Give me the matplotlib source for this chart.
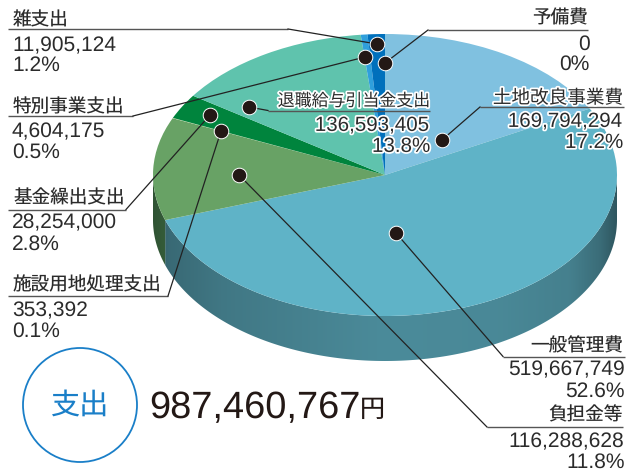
import matplotlib.pyplot as plt
from matplotlib.colors import to_rgb
from matplotlib.patches import Circle, Polygon
import matplotlib.patheffects as pe
import numpy as np

plt.rcParams["text.hinting"] = "none"
plt.rcParams["text.hinting_factor"] = 1

W, H = 635, 471
CX, CY, RX, RY, DEPTH = 385, 175, 232, 141, 45

# clockwise from 12 o'clock
categories = ["予備費", "土地改良事業費", "一般管理費", "負担金等", "施設用地処理支出",
              "基金繰出支出", "退職給与引当金支出", "特別事業支出", "雑支出"]
values = [0, 169794294, 519667749, 116288628, 353392, 28254000, 136593405, 4604175, 11905124]
percents = ["0%", "17.2%", "52.6%", "11.8%", "0.1%", "2.8%", "13.8%", "0.5%", "1.2%"]
colors = ["#80c1e0", "#80c1e0", "#5fb3c7", "#68a265", "#d3e4a0",
          "#00843d", "#5fc3ad", "#2f9fdc", "#0070bc"]
wall_colors = ["#4b8b9a", "#4b8b9a", "#4b8b9a", "#487e4e", "#487e4e",
               "#006030", "#3f8f80", "#20709c", "#005088"]
total_label = "987,460,767"

# label layout: (anchor x, ha, name y, number y, percent y, underline, leader bend, dot)
layout = {
    "雑支出": (13, "left", 19, 44, 64, (8, 288, 29), (288, 29), (377, 44)),
    "特別事業支出": (13, "left", 106, 130, 151, (8, 133, 116), (133, 116), (365, 57)),
    "基金繰出支出": (13, "left", 197, 221, 243, (8, 126, 209.5), (126, 209.5), (210, 115)),
    "施設用地処理支出": (13, "left", 284, 309, 330, (8, 168, 296), (168, 296), (221, 131)),
    "予備費": (588, "right", 17, 43, 63, (428, 588, 30), (428, 30), (385, 63)),
    "土地改良事業費": (623, "right", 97, 120, 141, (480, 624, 107), (480, 107), (442, 140)),
    "退職給与引当金支出": (430, "right", 100, 124, 145, (268, 430, 110.5), (268, 110.5), (249, 107)),
    "一般管理費": (623, "right", 345, 368, 390, (503, 625, 356.5), (503, 356.5), (396, 233)),
    "負担金等": (623, "right", 414, 440, 461, (487, 623, 427), (487, 427), (239, 175)),
}
halo_labels = ["土地改良事業費", "退職給与引当金支出"]

JP = ["Noto Sans CJK JP", "DejaVu Sans"]
NUM = "Liberation Sans"
INK = "#2b2b2b"
BLUE = "#1a7fc8"

fig = plt.figure(figsize=(W / 100, H / 100), dpi=100, facecolor="white")

# pie axes: one data unit is one ellipse radius, so the circle comes out flattened
ax = fig.add_axes([0, 0, 1, 1])
ax.pie(values, colors=colors, startangle=90, counterclock=False, radius=1,
       wedgeprops={"linewidth": 0})

# side wall under the front half, horizontal gradient clipped to each slice
fracs = np.cumsum([0] + values) / sum(values)
drop = DEPTH / RY
grad_x = np.linspace(-1, 1, 400)
shade = np.interp(grad_x, [-1, -0.93, -0.7, 0, 0.5, 0.8, 0.93, 1],
                  [0.66, 0.76, 0.86, 1.0, 0.98, 0.92, 0.78, 0.62])
for i in range(len(values)):
    a0 = max(fracs[i] * 2 * np.pi, np.pi / 2)
    a1 = min(fracs[i + 1] * 2 * np.pi, 3 * np.pi / 2)
    if a1 <= a0:
        continue
    th = np.linspace(a0, a1, 200)
    xs, ys = np.sin(th), np.cos(th)
    verts = np.r_[np.c_[xs, ys], np.c_[xs[::-1], ys[::-1] - drop]]
    grad = shade[None, :, None] * np.array(to_rgb(wall_colors[i]))[None, None, :]
    im = ax.imshow(grad, extent=(-1, 1, -1 - drop, 1), aspect="auto", zorder=0,
                   interpolation="bilinear")
    im.set_clip_path(Polygon(verts, transform=ax.transData))

ax.set_aspect("auto")
ax.set_xlim(-CX / RX, (W - CX) / RX)
ax.set_ylim((CY - H) / RY, CY / RY)

# overlay in pixel coordinates for labels and leaders
ov = fig.add_axes([0, 0, 1, 1])
ov.set_xlim(0, W)
ov.set_ylim(H, 0)
ov.axis("off")
ov.patch.set_alpha(0)

halo = [pe.withStroke(linewidth=2.5, foreground="white")]
for name, value, pct in zip(categories, values, percents):
    x, ha, y_name, y_num, y_pct, (u0, u1, uy), bend, dot = layout[name]
    fx = halo if name in halo_labels else None
    jp_size = 12.2 if name == "退職給与引当金支出" else 13.4
    num_x = x - 1 if ha == "left" else x + 1.5
    ov.plot([u0, u1], [uy, uy], color="#555555", lw=1.0, solid_capstyle="butt", zorder=3)
    ov.plot([bend[0], dot[0]], [bend[1], dot[1]], color="#222222", lw=0.9, zorder=3)
    ov.plot(dot[0], dot[1], "o", ms=10.5, mfc="#231815", mec="white", mew=0.7, zorder=4)
    ov.text(x, y_name + 1, name, ha=ha, va="center", family=JP, fontsize=jp_size, color=INK,
            path_effects=fx, zorder=5)
    ov.text(num_x, y_num + 1.5, f"{value:,}", ha=ha, va="center", family=NUM, fontsize=14.8, color=INK,
            path_effects=fx, zorder=5)
    ov.text(num_x, y_pct + 1.5, pct, ha=ha, va="center", family=NUM, fontsize=14.8, color=INK,
            path_effects=fx, zorder=5)

# total badge
ov.add_patch(Circle((80, 405), 57, fill=False, ec=BLUE, lw=1.3))
ov.text(80, 405, "支出", ha="center", va="center", family=JP, fontsize=21, color=BLUE)
ov.text(149, 408, total_label, ha="left", va="center", family=NUM, fontsize=27, color="#231815")
ov.text(360, 410, "円", ha="left", va="center", family=JP, fontsize=18, color="#231815")

fig.savefig("out.png", dpi=100)
